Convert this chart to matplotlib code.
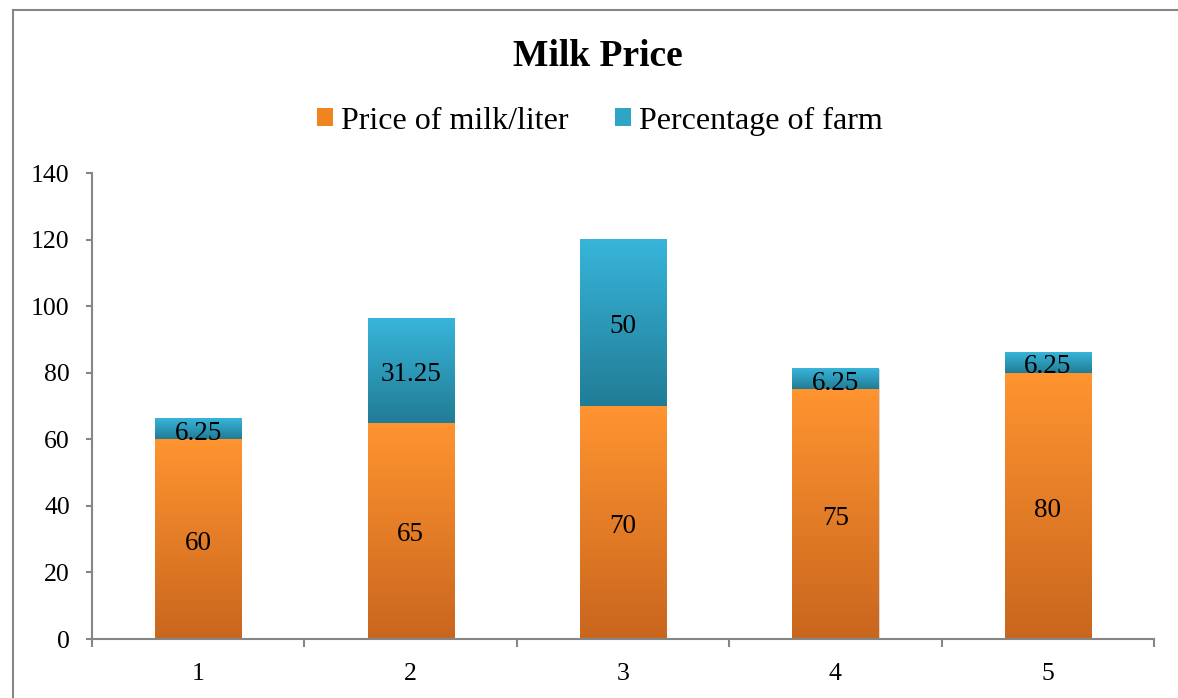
import numpy as np
import matplotlib.pyplot as plt
from matplotlib.colors import LinearSegmentedColormap
from matplotlib.lines import Line2D

# Podaci
categories = [1, 2, 3, 4, 5]
price = [60, 65, 70, 75, 80]
farm_pct = [6.25, 31.25, 50, 6.25, 6.25]
series_names = ['Price of milk/liter', 'Percentage of farm']

plt.rcParams['font.family'] = ['Liberation Serif', 'DejaVu Serif']

fig = plt.figure(figsize=(11.78, 6.98), dpi=100)
ax = fig.add_axes([92 / 1178, 1 - 639 / 698, (1154 - 92) / 1178, (639 - 173) / 698])

orange_cm = LinearSegmentedColormap.from_list('or', ['#c9661e', '#ff9430'])
blue_cm = LinearSegmentedColormap.from_list('bl', ['#217c96', '#38b5da'])
grad = np.linspace(0, 1, 256).reshape(-1, 1)

width = 0.405

def gradient_bar(x, bottom, height, cmap):
    # senka pa gradijent
    ax.bar(x + 0.006, height, width, bottom=bottom, color='#d8d8d8', zorder=1, linewidth=0)
    ax.imshow(grad, cmap=cmap, origin='lower', aspect='auto', zorder=2,
              extent=(x - width / 2, x + width / 2, bottom, bottom + height))

def label(x, y, val):
    ax.annotate(f'{val:g}', (x, y), xytext=(0, -3), textcoords='offset points',
                ha='center', va='center', fontsize=19.5, zorder=3)

for x, p, f in zip(categories, price, farm_pct):
    gradient_bar(x, 0, p, orange_cm)
    gradient_bar(x, p, f, blue_cm)
    label(x, p / 2, p)
    label(x, p + f / 2, f)

ax.set_xlim(0.5, 5.5)
ax.set_ylim(0, 140)
ax.set_yticks(np.arange(0, 141, 20))

ax.set_xticks(np.arange(0.5, 5.6, 1))
ax.set_xticklabels([])
ax.set_xticks(categories, minor=True)
ax.set_xticklabels([str(c) for c in categories], minor=True)
ax.tick_params(axis='x', which='major', length=6, width=1.5, color='#868686', direction='out')
ax.tick_params(axis='x', which='minor', length=0, pad=17, labelsize=18.5)
ax.tick_params(axis='y', length=4, width=1.5, color='#868686', pad=12, labelsize=18.5)

for s in ['top', 'right']:
    ax.spines[s].set_visible(False)
for s in ['left', 'bottom']:
    ax.spines[s].set_color('#868686')
    ax.spines[s].set_linewidth(1.5)

fig.text(598 / 1178, 1 - 56 / 698, 'Milk Price', ha='center', va='center',
         fontsize=27, fontweight='bold')

handles = [plt.Rectangle((0, 0), 1, 1, facecolor='#f0841f'),
           plt.Rectangle((0, 0), 1, 1, facecolor='#2ea4c6')]
fig.legend(handles, series_names, loc='center', bbox_to_anchor=(600 / 1178, 1 - 121 / 698),
           ncol=2, frameon=False, fontsize=23, handlelength=0.5, handleheight=0.5,
           handletextpad=0.25, columnspacing=1.45)

# okvir grafika
fig.add_artist(Line2D([13 / 1178, 1], [1 - 10 / 698, 1 - 10 / 698], color='#868686', lw=1.5))
fig.add_artist(Line2D([13 / 1178, 13 / 1178], [0, 1 - 10 / 698], color='#868686', lw=1.5))

fig.savefig('out.png', dpi=100)
